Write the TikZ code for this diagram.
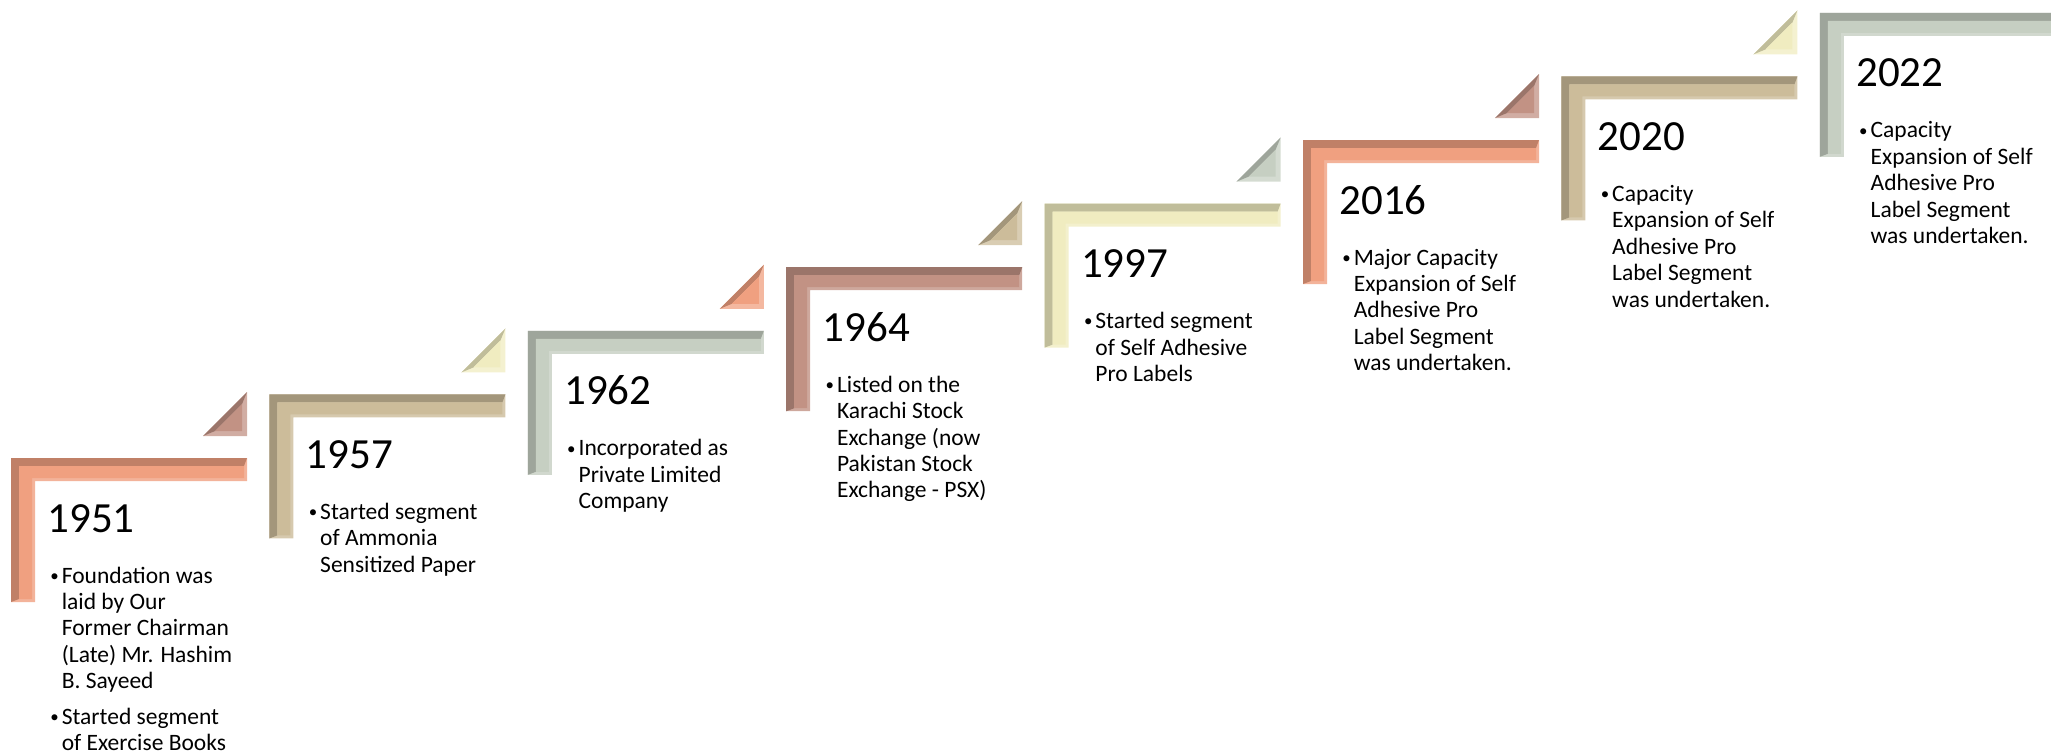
\documentclass[tikz,border=0pt]{standalone}
\usepackage{graphicx}
\usepackage{fontspec}
\setmainfont{Carlito}
\begin{document}
\begin{tikzpicture}[x=0.5pt,y=-0.5pt]
\useasboundingbox (0,0) rectangle (2051,750);
\definecolor{cOrange}{RGB}{240,160,128}
\definecolor{cTan}{RGB}{204,188,154}
\definecolor{cSage}{RGB}{198,207,194}
\definecolor{cMauve}{RGB}{194,146,132}
\definecolor{cCream}{RGB}{240,236,192}
\tikzset{
  year/.style={anchor=base west, inner sep=0pt, font=\fontsize{21.5}{24}\selectfont},
  info/.style={anchor=base west, inner sep=0pt, font=\fontsize{11.75}{13.2}\selectfont, align=left}
}
\newcommand\bul{\raisebox{0.9pt}{\scalebox{0.72}{•}}}
% bevelled L-shaped step, local origin at its outer top-left corner
\newcommand\bevelstep[1]{%
  \fill[#1!80!white] (0,0) -- (236,0) -- (236,23) -- (24,23) -- (24,144) -- (0,144) -- cycle;
  \fill[#1!80!black] (0,0) -- (236,0) -- (233,8) -- (8,8) -- (8,141) -- (0,144) -- cycle;
  \fill[#1] (8,8) -- (233,8) -- (233,20) -- (21,20) -- (21,141) -- (8,141) -- cycle;
}
% bevelled right-angled triangle, local origin at its right-angle corner
\newcommand\beveltri[1]{%
  \fill[#1!75!white] (0,0) -- (0,-44) -- (-44,0) -- cycle;
  \fill[#1!80!black] (0,-44) -- (-44,0) -- (-31.9,-5) -- (-5,-31.9) -- cycle;
  \fill[#1] (-5,-5) -- (-5,-31.9) -- (-31.9,-5) -- cycle;
}
\foreach \i/\sc/\tc in {0/cOrange/cMauve,1/cTan/cCream,2/cSage/cOrange,3/cMauve/cTan,
                        4/cCream/cSage,5/cOrange/cMauve,6/cTan/cCream,7/cSage/none}{
  \pgfmathsetmacro\L{11+258.4*\i}
  \pgfmathsetmacro\T{458-63.6*\i}
  \begin{scope}[shift={(\L,\T)}]
    \bevelstep{\sc}
  \end{scope}
  \ifnum\i<7
  \begin{scope}[shift={(\L+236,\T-22)}]
    \beveltri{\tc}
  \end{scope}
  \fi
}
% years
\node[year] (y0) at (47,532) {1951};
\node[year] (y1) at (305.4,468.4) {1957};
\node[year] (y2) at (563.8,404.8) {1962};
\node[year] (y3) at (822.2,341.2) {1964};
\node[year] (y4) at (1080.6,277.6) {1997};
\node[year] (y5) at (1339,214) {2016};
\node[year] (y6) at (1597.4,150.4) {2020};
\node[year] (y7) at (1855.8,86.8) {2022};
% milestones
\node[info] (t0) at (50,583) {\begin{tabular}[t]{@{}l@{\hspace{1.5pt}}l@{}}
  \bul&Foundation was\\ &laid by Our\\ &Former Chairman\\ &(Late) Mr. Hashim\\ &B. Sayeed\\[4.5pt]
  \bul&Started segment\\ &of Exercise Books\end{tabular}};
\node[info] (t1) at (308.4,519.4) {\begin{tabular}[t]{@{}l@{\hspace{1.5pt}}l@{}}
  \bul&Started segment\\ &of Ammonia\\ &Sensitized Paper\end{tabular}};
\node[info] (t2) at (566.8,455.8) {\begin{tabular}[t]{@{}l@{\hspace{1.5pt}}l@{}}
  \bul&Incorporated as\\ &Private Limited\\ &Company\end{tabular}};
\node[info] (t3) at (825.2,392.2) {\begin{tabular}[t]{@{}l@{\hspace{1.5pt}}l@{}}
  \bul&Listed on the\\ &Karachi Stock\\ &Exchange (now\\ &Pakistan Stock\\ &Exchange - PSX)\end{tabular}};
\node[info] (t4) at (1083.6,328.6) {\begin{tabular}[t]{@{}l@{\hspace{1.5pt}}l@{}}
  \bul&Started segment\\ &of Self Adhesive\\ &Pro Labels\end{tabular}};
\node[info] (t5) at (1342,265) {\begin{tabular}[t]{@{}l@{\hspace{1.5pt}}l@{}}
  \bul&Major Capacity\\ &Expansion of Self\\ &Adhesive Pro\\ &Label Segment\\ &was undertaken.\end{tabular}};
\node[info] (t6) at (1600.4,201.4) {\begin{tabular}[t]{@{}l@{\hspace{1.5pt}}l@{}}
  \bul&Capacity\\ &Expansion of Self\\ &Adhesive Pro\\ &Label Segment\\ &was undertaken.\end{tabular}};
\node[info] (t7) at (1858.8,137.8) {\begin{tabular}[t]{@{}l@{\hspace{1.5pt}}l@{}}
  \bul&Capacity\\ &Expansion of Self\\ &Adhesive Pro\\ &Label Segment\\ &was undertaken.\end{tabular}};
\end{tikzpicture}
\end{document}
